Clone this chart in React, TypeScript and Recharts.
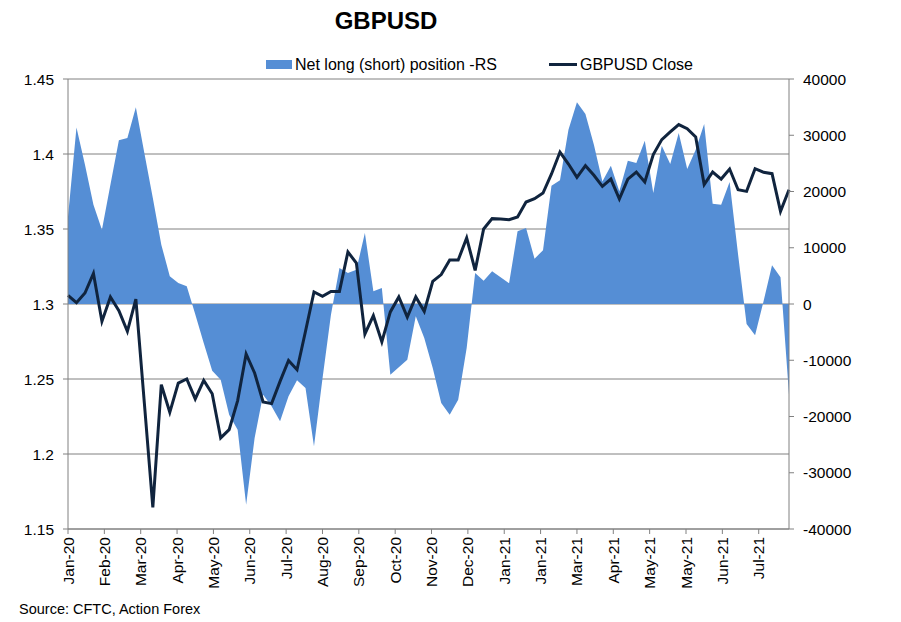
import { Area, CartesianGrid, ComposedChart, Line, XAxis, YAxis } from 'recharts';

// Weekly CFTC data, Jan-20 .. Aug-21 (one row per week)
const gbpusdClose = [
  1.3058, 1.3009, 1.3073, 1.3204, 1.2884, 1.3047, 1.2956, 1.2818, 1.3033, 1.234,
  1.1644, 1.2462, 1.2278, 1.2473, 1.25, 1.2367, 1.2491, 1.2402, 1.2107, 1.2162,
  1.2356, 1.2667, 1.254, 1.2347, 1.2336, 1.2484, 1.2624, 1.2562, 1.2818, 1.308,
  1.3051, 1.3084, 1.3084, 1.3347, 1.3273, 1.28, 1.2922, 1.2747, 1.2947, 1.3047,
  1.2913, 1.3047, 1.2951, 1.3151, 1.3196, 1.3293, 1.3293, 1.344, 1.3224, 1.35,
  1.3569, 1.3567, 1.3562, 1.358, 1.368, 1.3702, 1.374, 1.3867, 1.4013, 1.3933,
  1.3844, 1.3922, 1.3858, 1.3784, 1.3833, 1.37, 1.3833, 1.388, 1.3813, 1.3996,
  1.4096, 1.4147, 1.4196, 1.4169, 1.4113, 1.3796, 1.388, 1.3833, 1.39, 1.3762,
  1.3751, 1.3902, 1.3878, 1.3869, 1.3618, 1.3762,
];

const netPosition = [
  15500, 31400, 24770, 17660, 13215, 21215, 29100, 29500, 34960, 26845,
  18845, 10550, 4920, 3730, 3140, -1840, -6930, -11850, -13450, -19670,
  -22340, -35670, -23820, -16120, -18190, -20860, -16410, -13570, -14930, -25300,
  -13275, -1900, 6400, 5510, 6100, 12620, 2250, 2840, -12560, -11260,
  -9900, -2190, -6045, -11380, -17600, -19675, -17010, -7820, 5510, 4150,
  5810, 4740, 3670, 12920, 13510, 8060, 9540, 21040, 21985, 30990,
  35850, 33780, 28330, 21800, 24600, 20030, 25480, 25070, 29040, 19730,
  28150, 24890, 30400, 24000, 27440, 32000, 17840, 17660, 21690, 8770,
  -3560, -5570, 470, 6870, 4740, -16120,
];

// date-axis labels, one every 30 days
const monthLabels = [
  'Jan-20', 'Feb-20', 'Mar-20', 'Apr-20', 'May-20', 'Jun-20', 'Jul-20', 'Aug-20',
  'Sep-20', 'Oct-20', 'Nov-20', 'Dec-20', 'Jan-21', 'Jan-21', 'Mar-21', 'Apr-21',
  'May-21', 'May-21', 'Jun-21', 'Jul-21',
];

const leftTicks = [1.15, 1.2, 1.25, 1.3, 1.35, 1.4, 1.45];
const rightTicks = [-40000, -30000, -20000, -10000, 0, 10000, 20000, 30000, 40000];

const data = gbpusdClose.map((c, i) => ({ day: i * 7, close: c, net: netPosition[i] }));
const dayTicks = monthLabels.map((_, k) => k * 30);
const lastDay = (gbpusdClose.length - 1) * 7;

const AREA = '#558ed5';
const LINE = '#10243e';
const AXIS = '#808080';
const FONT = '"Liberation Sans", Arial, sans-serif';

function MonthTick(props: any) {
  const { x, y, payload } = props;
  return (
    <text
      transform={`translate(${x + 5.5},${y}) rotate(-90)`}
      textAnchor="end"
      fontSize={15.5}
      fill="#000"
    >
      {monthLabels[Math.round(payload.value / 30)]}
    </text>
  );
}

export default function App() {
  return (
    <div style={{ position: 'relative', width: 885, height: 614, fontFamily: FONT }}>
      <ComposedChart
        width={885}
        height={585}
        data={data}
        margin={{ top: 71, right: 14, left: 0, bottom: 0 }}
      >
        <CartesianGrid yAxisId="left" vertical={false} stroke={AXIS} />
        <XAxis
          dataKey="day"
          type="number"
          domain={[0, lastDay]}
          ticks={dayTicks}
          interval={0}
          height={64}
          tickSize={5}
          tickMargin={3}
          axisLine={{ stroke: AXIS }}
          tickLine={{ stroke: AXIS }}
          tick={MonthTick}
        />
        <YAxis
          yAxisId="left"
          domain={[1.15, 1.45]}
          ticks={leftTicks}
          interval={0}
          width={60}
          tickSize={5}
          tickMargin={9}
          axisLine={{ stroke: AXIS }}
          tickLine={{ stroke: AXIS }}
          tick={{ fill: '#000', fontSize: 15.5 }}
          tickFormatter={(v) => String(v)}
        />
        <YAxis
          yAxisId="right"
          orientation="right"
          domain={[-40000, 40000]}
          ticks={rightTicks}
          interval={0}
          width={90}
          tickSize={5}
          tickMargin={9}
          axisLine={{ stroke: AXIS }}
          tickLine={{ stroke: AXIS }}
          tick={{ fill: '#000', fontSize: 15.5, textAnchor: 'start' }}
        />
        <Area
          yAxisId="right"
          type="linear"
          dataKey="net"
          baseValue={0}
          fill={AREA}
          fillOpacity={1}
          stroke="none"
          isAnimationActive={false}
        />
        <Line
          yAxisId="left"
          type="linear"
          dataKey="close"
          stroke={LINE}
          strokeWidth={3}
          dot={false}
          isAnimationActive={false}
        />
      </ComposedChart>
      <svg
        width={885}
        height={614}
        style={{ position: 'absolute', left: 0, top: 0, pointerEvents: 'none' }}
      >
        <text x={378} y={21} textAnchor="middle" fontSize={24} fontWeight="bold" fill="#000">
          GBPUSD
        </text>
        <rect x={258} y={52} width={26} height={9} fill={AREA} />
        <text x={287} y={62} fontSize={16} fill="#000">
          Net long (short) position -RS
        </text>
        <line x1={541} y1={56.5} x2={569} y2={56.5} stroke={LINE} strokeWidth={3} />
        <text x={572} y={61.5} fontSize={16} fill="#000">
          GBPUSD Close
        </text>
        <text x={11} y={606} fontSize={14.5} fill="#000">
          Source: CFTC, Action Forex
        </text>
      </svg>
    </div>
  );
}
